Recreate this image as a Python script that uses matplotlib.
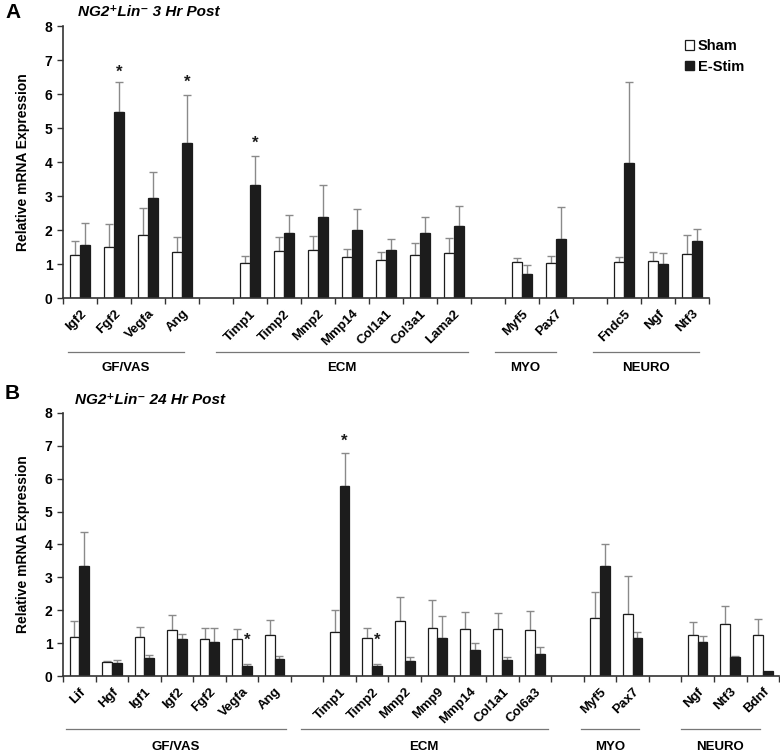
import matplotlib
matplotlib.use('Agg')
import matplotlib.pyplot as plt
import matplotlib.transforms as mtransforms
from matplotlib.patches import Patch
import numpy as np

plt.rcParams['font.family'] = ['Liberation Sans', 'DejaVu Sans']
plt.rcParams['font.weight'] = 'bold'

# Panel A - 3 Hr post ('' = empty spacer slot between groups)
a_genes = ['Igf2', 'Fgf2', 'Vegfa', 'Ang', '',
           'Timp1', 'Timp2', 'Mmp2', 'Mmp14', 'Col1a1', 'Col3a1', 'Lama2', '',
           'Myf5', 'Pax7', '',
           'Fndc5', 'Ngf', 'Ntf3']
a_sham = [1.26, 1.51, 1.85, 1.34, None,
          1.04, 1.37, 1.40, 1.20, 1.12, 1.26, 1.32, None,
          1.05, 1.03, None,
          1.05, 1.08, 1.29]
a_sham_err = [0.42, 0.66, 0.79, 0.45, None,
              0.19, 0.41, 0.41, 0.23, 0.22, 0.37, 0.44, None,
              0.14, 0.20, None,
              0.17, 0.26, 0.56]
a_stim = [1.57, 5.47, 2.94, 4.56, None,
          3.32, 1.90, 2.37, 2.00, 1.42, 1.91, 2.12, None,
          0.71, 1.75, None,
          3.96, 1.01, 1.67]
a_stim_err = [0.63, 0.88, 0.76, 1.40, None,
              0.86, 0.55, 0.94, 0.61, 0.31, 0.47, 0.60, None,
              0.25, 0.92, None,
              2.39, 0.31, 0.35]
a_stars = {'Fgf2': 6.42, 'Ang': 6.12, 'Timp1': 4.32}
a_groups = ['GF/VAS', 'ECM', 'MYO', 'NEURO']
a_group_span = [(0.15, 3.55), (4.5, 11.9), (12.7, 14.5), (15.6, 18.7)]

# Panel B - 24 Hr post
b_genes = ['Lif', 'Hgf', 'Igf1', 'Igf2', 'Fgf2', 'Vegfa', 'Ang', '',
           'Timp1', 'Timp2', 'Mmp2', 'Mmp9', 'Mmp14', 'Col1a1', 'Col6a3', '',
           'Myf5', 'Pax7', '',
           'Ngf', 'Ntf3', 'Bdnf']
b_sham = [1.18, 0.42, 1.19, 1.39, 1.14, 1.14, 1.24, None,
          1.34, 1.17, 1.68, 1.45, 1.44, 1.44, 1.39, None,
          1.75, 1.89, None,
          1.24, 1.59, 1.25]
b_sham_err = [0.48, 0.05, 0.31, 0.46, 0.33, 0.28, 0.47, None,
              0.67, 0.28, 0.73, 0.86, 0.51, 0.47, 0.58, None,
              0.81, 1.14, None,
              0.39, 0.53, 0.48]
b_stim = [3.36, 0.40, 0.54, 1.13, 1.03, 0.30, 0.51, None,
          5.79, 0.30, 0.47, 1.16, 0.79, 0.48, 0.68, None,
          3.36, 1.15, None,
          1.02, 0.57, 0.16]
b_stim_err = [1.02, 0.10, 0.11, 0.15, 0.44, 0.06, 0.11, None,
              0.98, 0.07, 0.11, 0.65, 0.20, 0.09, 0.19, None,
              0.66, 0.19, None,
              0.20, 0.04, 0.0]
b_stars = {'Timp1': 6.92, 'Vegfa': 0.85, 'Timp2': 0.87}
b_groups = ['GF/VAS', 'ECM', 'MYO', 'NEURO']
b_group_span = [(0.1, 6.85), (7.3, 14.9), (15.9, 17.7), (19.0, 21.4)]

ERR_COLOR = '#8a8a8a'
DARK = '#1c1c1c'


def draw_panel(ax, genes, sham, sham_err, stim, stim_err, stars, groups, spans,
               line_y, label_y):
    n = len(genes)
    idx = [i for i, g in enumerate(genes) if g]
    x = np.array(idx) + 0.5
    w = 0.3
    s = np.array([sham[i] for i in idx])
    se = np.array([sham_err[i] for i in idx])
    e = np.array([stim[i] for i in idx])
    ee = np.array([stim_err[i] for i in idx])

    ax.bar(x - w / 2, s, w, color='white', edgecolor=DARK, linewidth=0.9, zorder=2)
    ax.bar(x + w / 2, e, w, color=DARK, edgecolor=DARK, linewidth=0.9, zorder=2)
    ax.errorbar(x - w / 2, s, yerr=[np.zeros_like(se), se], fmt='none',
                ecolor=ERR_COLOR, elinewidth=1.0, capsize=3, capthick=1.0, zorder=1)
    mask = ee > 0
    ax.errorbar((x + w / 2)[mask], e[mask], yerr=[np.zeros(mask.sum()), ee[mask]],
                fmt='none', ecolor=ERR_COLOR, elinewidth=1.0, capsize=3,
                capthick=1.0, zorder=1)

    for g, y in stars.items():
        i = genes.index(g)
        ax.text(i + 0.5 + w / 2, y, '*', ha='center', va='bottom',
                fontsize=12, fontweight='bold', color=DARK)

    ax.set_xlim(0, n)
    ax.set_ylim(0, 8)
    ax.set_yticks(range(0, 9))
    ax.set_xticks(np.arange(0, n + 1))
    ax.set_xticklabels([])
    ax.set_xticks(x, minor=True)
    ax.set_xticklabels([genes[i] for i in idx], minor=True, rotation=45,
                       ha='right', va='top', rotation_mode='anchor',
                       fontsize=9.5, fontweight='bold')
    ax.tick_params(axis='x', which='minor', length=0, pad=7)
    ax.tick_params(axis='x', which='major', length=4, width=1.0, direction='out',
                   color='#333333')
    ax.tick_params(axis='y', length=4, width=1.0, direction='out', labelsize=10,
                   color='#333333')
    for lab in ax.get_yticklabels():
        lab.set_fontweight('bold')
    for sp in ['top', 'right']:
        ax.spines[sp].set_visible(False)
    for sp in ['left', 'bottom']:
        ax.spines[sp].set_linewidth(1.2)
        ax.spines[sp].set_color('#333333')
    ax.set_ylabel('Relative mRNA Expression', fontsize=10, fontweight='bold',
                  labelpad=11)

    trans = mtransforms.blended_transform_factory(ax.transData, ax.transAxes)
    for name, (x0, x1) in zip(groups, spans):
        ax.plot([x0, x1], [line_y, line_y], color='#777777', lw=0.9,
                transform=trans, clip_on=False)
        ax.text((x0 + x1) / 2, label_y, name, transform=trans, ha='center',
                va='center', fontsize=9.5, fontweight='bold')


fig = plt.figure(figsize=(7.8, 7.56), dpi=100)
axA = fig.add_axes([0.0808, 0.6058, 0.828, 0.3598])
axB = fig.add_axes([0.0808, 0.1058, 0.918, 0.348])

draw_panel(axA, a_genes, a_sham, a_sham_err, a_stim, a_stim_err, a_stars,
           a_groups, a_group_span, -0.199, -0.257)
draw_panel(axB, b_genes, b_sham, b_sham_err, b_stim, b_stim_err, b_stars,
           b_groups, b_group_span, -0.2015, -0.27)

handles = [Patch(facecolor='white', edgecolor=DARK, linewidth=0.9, label='Sham'),
           Patch(facecolor=DARK, edgecolor=DARK, label='E-Stim')]
axA.legend(handles=handles, loc='upper right', bbox_to_anchor=(1.075, 1.0),
           frameon=False, handlelength=0.65, handleheight=0.65, handletextpad=0.25,
           labelspacing=0.45, prop={'weight': 'bold', 'size': 10.5})

fig.text(5 / 780, 1 - 12 / 756, 'A', fontsize=15, fontweight='bold', va='center')
fig.text(5 / 780, 1 - 393 / 756, 'B', fontsize=15, fontweight='bold', va='center')
fig.text(78 / 780, 1 - 12 / 756, 'NG2\u207aLin\u207b 3 Hr Post', fontsize=11,
         fontweight='bold', style='italic', va='center')
fig.text(75 / 780, 1 - 400 / 756, 'NG2\u207aLin\u207b 24 Hr Post', fontsize=11,
         fontweight='bold', style='italic', va='center')

fig.savefig('out.png', dpi=100)
